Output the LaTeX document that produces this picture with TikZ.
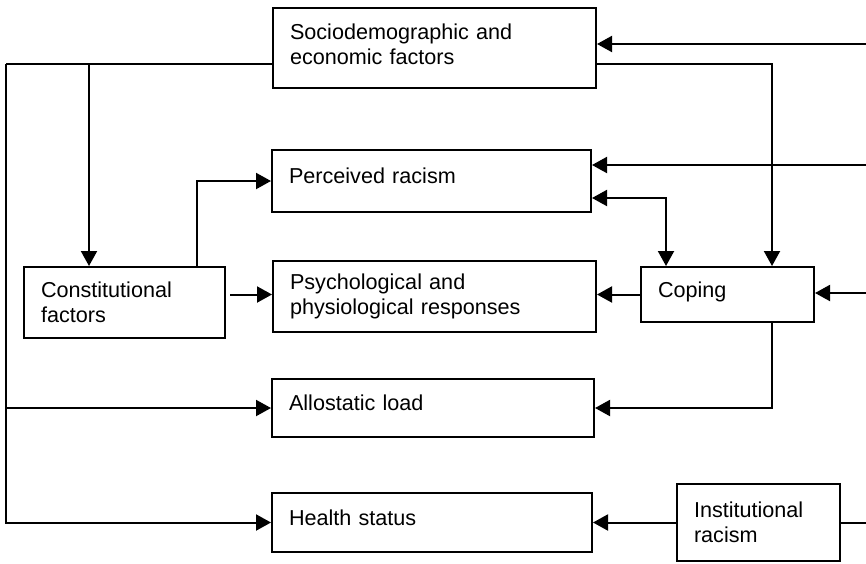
\documentclass[tikz,border=0pt]{standalone}
\usepackage{fontspec}
\setmainfont{Liberation Sans}
\usetikzlibrary{arrows.meta}

\begin{document}
\begin{tikzpicture}[x=0.5pt,y=-0.5pt,line width=1pt,>={Triangle[length=7.5pt,width=8pt]}]
  \tikzstyle{factor}=[draw,line width=1pt,align=left,inner xsep=8.5pt,inner ysep=0pt,
                      font=\fontsize{10.8}{12.5}\selectfont]
  \tikzstyle{single}=[text height=7.7pt,text depth=5pt]

  \useasboundingbox (0,0) rectangle (866,563);

  % boxes
  \node[factor,text width=144.5pt,minimum height=40pt,text depth=16pt] (socio) at (434.5,48) {Sociodemographic and\\economic factors};
  \node[factor,single,text width=142.5pt,minimum height=31pt] (perc) at (431.5,181) {Perceived racism};
  \node[factor,text width=83.5pt,minimum height=35.5pt]  (const)  at (124.5,302.5) {Constitutional\\factors};
  \node[factor,text width=144.5pt,minimum height=35.5pt] (psych)  at (434.5,296.5) {Psychological and\\physiological responses};
  \node[factor,single,text width=69.5pt,minimum height=27.5pt] (coping) at (727.5,294.5) {Coping};
  \node[factor,single,text width=144pt,minimum height=29pt]    (allo)   at (433,408)   {Allostatic load};
  \node[factor,single,text width=143pt,minimum height=29.5pt]  (health) at (432,522.5) {Health status};
  \node[factor,text width=64.5pt,minimum height=38.5pt]  (inst)   at (758.5,522.5) {Institutional\\racism};

  % rails and loose ends
  \coordinate (sl) at (5.5,64);
  \coordinate (sc) at (89,64);
  \coordinate (sr) at (772,64);
  \coordinate (pc) at (666,198);
  \coordinate (cp) at (197,181);
  \coordinate (in1) at (866,44);
  \coordinate (in2) at (866,165);
  \coordinate (in3) at (866,293);

  \draw[->] (in1) -- (in1 -| socio.east);
  \draw (socio.west |- sl) -- (sl);
  \draw[->] (sl) |- (health.west);
  \draw[->] (sl |- allo.west) -- (allo.west);
  \draw[->] (sc) -- (sc |- const.north);
  \draw[->] (socio.east |- sr) -- (sr) -- (sr |- coping.north);

  \draw[->] (in2) -- (in2 -| perc.east);
  \draw[<->] (perc.east |- pc) -| (pc |- coping.north);
  \draw[->] (const.north -| cp) |- (perc.west);

  \draw[->,shorten <=2pt] (const.east |- coping.west) -- (psych.west |- coping.west);
  \draw[->] (coping.west) -- (coping.west -| psych.east);
  \draw[->] (in3) -- (in3 -| coping.east);
  \draw[->] (coping.south -| sr) |- (allo.east);

  \draw[->] (inst.west) -- (health.east);
  \draw (inst.east) -- (inst.east -| in1);

\end{tikzpicture}
\end{document}
